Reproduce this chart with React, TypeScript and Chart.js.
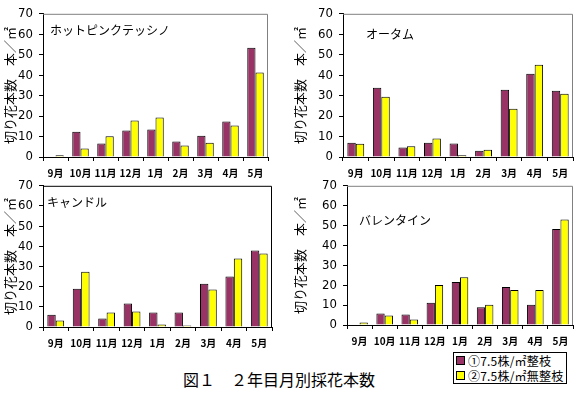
import React, { useEffect, useRef } from "react";
import { Chart, registerables } from "chart.js";

Chart.register(...registerables);

const months = ["9月", "10月", "11月", "12月", "1月", "2月", "3月", "4月", "5月"];
const yTicks = [0, 10, 20, 30, 40, 50, 60, 70];
const seriesNames = ["①7.5株/㎡整枝", "②7.5株/㎡無整枝"];

const hotPinkPruned = [0.3, 12.4, 6.6, 12.9, 13.4, 7.6, 10.4, 17.3, 53.4];
const hotPinkUnpruned = [0.8, 4.2, 10.1, 17.8, 19.3, 5.6, 7.0, 15.4, 41.3];
const autumnPruned = [7.0, 33.9, 4.6, 7.0, 6.6, 3.1, 32.9, 40.7, 32.4];
const autumnUnpruned = [6.5, 29.5, 5.2, 9.0, 0.8, 3.6, 23.6, 45.1, 30.9];
const candlePruned = [6.1, 19.0, 4.2, 11.7, 7.2, 7.2, 21.5, 25.0, 37.9];
const candleUnpruned = [3.2, 27.4, 7.2, 7.7, 1.2, 0.8, 18.6, 33.9, 36.4];
const valentinePruned = [0, 5.8, 5.3, 11.2, 21.6, 8.9, 19.1, 10.2, 48.3];
const valentineUnpruned = [1.3, 4.8, 2.8, 20.1, 24.0, 10.2, 17.6, 17.6, 53.0];

const PURPLE = "#993366";
const YELLOW = "#FFFF00";

type PanelProps = {
  name: string;
  a: number[];
  b: number[];
  x: number;
  y: number;
  w: number;
  h: number;
  plotLeft: number;
  plotRight: number;
  plotTop: number;
  plotBottom: number;
  nameDx: number;
  nameDy: number;
  frameColor: string;
};

function Panel(p: PanelProps) {
  const ref = useRef<HTMLCanvasElement | null>(null);
  useEffect(() => {
    if (!ref.current) return;
    const framePlugin = {
      id: "frame",
      beforeDatasetsDraw(chart: any) {
        const { ctx, chartArea } = chart;
        ctx.save();
        ctx.strokeStyle = p.frameColor;
        ctx.lineWidth = 1;
        ctx.beginPath();
        ctx.moveTo(chartArea.left, chartArea.top + 0.5);
        ctx.lineTo(chartArea.right - 0.5, chartArea.top + 0.5);
        ctx.lineTo(chartArea.right - 0.5, chartArea.bottom);
        ctx.stroke();
        ctx.restore();
      },
      afterDraw(chart: any) {
        const { ctx, chartArea } = chart;
        ctx.save();
        ctx.fillStyle = "#000";
        ctx.font = '12px "Noto Sans CJK JP"';
        ctx.textBaseline = "middle";
        ctx.textAlign = "left";
        ctx.fillText(p.name, chartArea.left + p.nameDx, chartArea.top + p.nameDy);
        ctx.restore();
      },
    };
    const chart = new Chart(ref.current, {
      type: "bar",
      data: {
        labels: months,
        datasets: [
          {
            label: seriesNames[0],
            data: p.a,
            backgroundColor: PURPLE,
            borderColor: "#000",
            borderWidth: 1,
            categoryPercentage: 0.66,
            barPercentage: 1.0,
          },
          {
            label: seriesNames[1],
            data: p.b,
            backgroundColor: YELLOW,
            borderColor: "#000",
            borderWidth: 1,
            categoryPercentage: 0.66,
            barPercentage: 1.0,
          },
        ],
      },
      options: {
        animation: false,
        responsive: false,
        devicePixelRatio: 1,
        layout: {
          padding: { left: 0, top: p.plotTop, right: p.w - p.plotRight, bottom: 0 },
        },
        plugins: {
          legend: { display: false },
          tooltip: { enabled: false },
          title: { display: false },
        },
        scales: {
          x: {
            grid: {
              display: true,
              drawOnChartArea: false,
              drawTicks: true,
              tickLength: 4,
              color: "#000",
              offset: true,
            },
            border: { display: true, color: "#000", width: 1 },
            ticks: {
              color: "#000",
              font: { family: '"Noto Sans CJK JP"', size: 10, weight: "bold" },
              padding: 6,
              maxRotation: 0,
              autoSkip: false,
            },
            afterFit: (scale: any) => {
              scale.height = p.h - p.plotBottom;
            },
          },
          y: {
            min: 0,
            max: 70,
            afterBuildTicks: (scale: any) => {
              scale.ticks = yTicks.map((v) => ({ value: v }));
            },
            grid: {
              display: true,
              drawOnChartArea: false,
              drawTicks: true,
              tickLength: 4,
              color: "#000",
            },
            border: { display: true, color: "#000", width: 1 },
            ticks: {
              color: "#000",
              font: { family: '"Liberation Sans Narrow", "DejaVu Sans Condensed", sans-serif', size: 13 },
              padding: 6,
            },
            title: {
              display: true,
              text: "切り花本数　本／㎡",
              color: "#000",
              font: { family: '"Noto Sans CJK JP"', size: 13 },
              padding: { top: 2, bottom: 0 },
            },
            afterFit: (scale: any) => {
              scale.width = p.plotLeft;
            },
          },
        },
      },
      plugins: [framePlugin],
    });
    return () => chart.destroy();
  }, []);
  return (
    <canvas
      ref={ref}
      width={p.w}
      height={p.h}
      style={{ position: "absolute", left: p.x, top: p.y, width: p.w, height: p.h }}
    />
  );
}

export default function App() {
  const legendRow = (color: string, text: string) => (
    <div style={{ display: "flex", alignItems: "center", height: 15 }}>
      <span
        style={{
          display: "inline-block",
          width: 7,
          height: 7,
          background: color,
          border: "1px solid #000",
          marginLeft: 2,
          marginRight: 3,
        }}
      />
      <span style={{ letterSpacing: 0.2 }}>{text}</span>
    </div>
  );
  return (
    <div
      style={{
        position: "fixed",
        left: 0,
        top: 0,
        width: 582,
        height: 395,
        background: "#fff",
        overflow: "hidden",
      }}
    >
      <Panel name="ホットピンクテッシノ" a={hotPinkPruned} b={hotPinkUnpruned}
        x={0} y={0} w={290} h={180} plotLeft={43} plotRight={268} plotTop={13} plotBottom={157}
        nameDx={7} nameDy={17} frameColor="#808080" />
      <Panel name="オータム" a={autumnPruned} b={autumnUnpruned}
        x={290} y={0} w={292} h={180} plotLeft={53} plotRight={283} plotTop={13} plotBottom={157}
        nameDx={23} nameDy={21} frameColor="#808080" />
      <Panel name="キャンドル" a={candlePruned} b={candleUnpruned}
        x={0} y={172} w={290} h={178} plotLeft={43} plotRight={272} plotTop={13} plotBottom={155}
        nameDx={4} nameDy={17} frameColor="#000" />
      <Panel name="バレンタイン" a={valentinePruned} b={valentineUnpruned}
        x={290} y={172} w={292} h={178} plotLeft={57} plotRight={283} plotTop={11} plotBottom={153}
        nameDx={12} nameDy={35} frameColor="#808080" />
      <div
        style={{
          position: "absolute",
          left: 183,
          top: 368,
          fontFamily: '"Noto Sans CJK JP"',
          fontSize: 16,
          lineHeight: "22px",
          color: "#000",
          whiteSpace: "nowrap",
        }}
      >
        図１　２年目月別採花本数
      </div>
      <div
        style={{
          position: "absolute",
          left: 453,
          top: 352,
          width: 112,
          height: 30,
          border: "1px solid #000",
          background: "#fff",
          fontFamily: '"Noto Sans CJK JP"',
          fontSize: 12,
          lineHeight: "15px",
          color: "#000",
          whiteSpace: "nowrap",
        }}
      >
        {legendRow(PURPLE, seriesNames[0])}
        {legendRow(YELLOW, seriesNames[1])}
      </div>
    </div>
  );
}
